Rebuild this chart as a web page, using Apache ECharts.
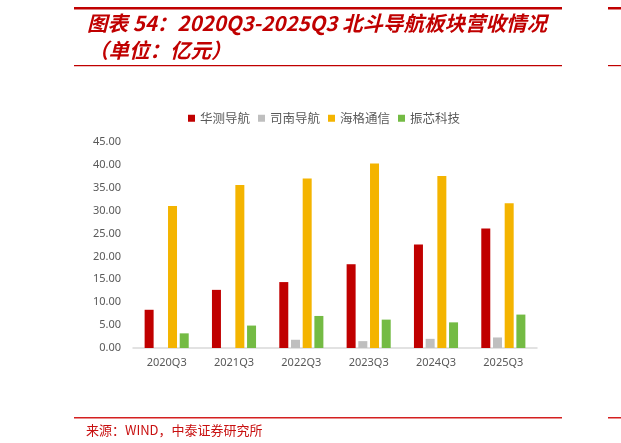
<!DOCTYPE html>
<html>
<head>
<meta charset="utf-8">
<script src="https://cdn.jsdelivr.net/npm/echarts@6/dist/echarts.min.js"></script>
<style>
  html, body { margin: 0; padding: 0; background: #fff; }
  #chart { width: 621px; height: 443px; }
</style>
</head>
<body>
<div id="chart"></div>
<script>
// data (unit: 亿元)
var categories = ['2020Q3', '2021Q3', '2022Q3', '2023Q3', '2024Q3', '2025Q3'];
var seriesNames = ['华测导航', '司南导航', '海格通信', '振芯科技'];
var huace = [8.35, 12.7, 14.4, 18.3, 22.6, 26.1];
var sinan = [null, null, 1.8, 1.5, 2.0, 2.3];
var haige = [31.0, 35.6, 37.0, 40.3, 37.6, 31.6];
var zhenxin = [3.2, 4.9, 7.0, 6.2, 5.6, 7.3];
var colors = ['#C00000', '#BFBFBF', '#F4B400', '#74BB44'];

var red = '#C00000';
var cjk = '"Noto Sans CJK SC", sans-serif';

function barSeries(name, data, color) {
    return {
        name: name,
        type: 'bar',
        data: data,
        barWidth: 9,
        barGap: '30%',
        itemStyle: { color: color },
        emphasis: { disabled: true }
    };
}

var myChart = echarts.init(document.getElementById('chart'));
myChart.setOption({
    animation: false,
    color: colors,
    legend: {
        left: 183,
        top: 107,
        icon: 'rect',
        itemWidth: 7,
        itemHeight: 7,
        itemGap: 8,
        textStyle: { color: '#595959', fontSize: 12.5, fontFamily: cjk },
        data: seriesNames
    },
    grid: { left: 133, right: 84, top: 142, bottom: 95 },
    xAxis: {
        type: 'category',
        data: categories,
        axisLine: { lineStyle: { color: '#D9D9D9', width: 1.5 } },
        axisTick: { show: false },
        axisLabel: { color: '#595959', fontSize: 11, fontFamily: 'Noto Sans', margin: 9 }
    },
    yAxis: {
        type: 'value',
        min: 0,
        max: 45,
        interval: 5,
        splitLine: { show: false },
        axisLine: { show: false },
        axisTick: { show: false },
        axisLabel: {
            color: '#595959',
            fontSize: 11,
            fontFamily: 'Noto Sans',
            margin: 12,
            formatter: function (v) { return v.toFixed(2); }
        }
    },
    series: [
        barSeries(seriesNames[0], huace, colors[0]),
        barSeries(seriesNames[1], sinan, colors[1]),
        barSeries(seriesNames[2], haige, colors[2]),
        barSeries(seriesNames[3], zhenxin, colors[3])
    ],
    graphic: [
        { type: 'rect', shape: { x: 74, y: 7, width: 488, height: 2.5 }, style: { fill: red } },
        { type: 'rect', shape: { x: 608, y: 7, width: 13, height: 2.5 }, style: { fill: red } },
        {
            type: 'text', left: 87, top: 13,
            style: {
                text: '图表 54：2020Q3-2025Q3 北斗导航板块营收情况',
                fill: red, fontSize: 20.5, fontWeight: 'bold', fontStyle: 'italic', fontFamily: cjk
            }
        },
        {
            type: 'text', left: 88, top: 40,
            style: {
                text: '（单位：亿元）',
                fill: red, fontSize: 20.5, fontWeight: 'bold', fontStyle: 'italic', fontFamily: cjk
            }
        },
        { type: 'rect', shape: { x: 74, y: 65, width: 488, height: 1.2 }, style: { fill: red } },
        { type: 'rect', shape: { x: 608, y: 65, width: 13, height: 1.2 }, style: { fill: red } },
        { type: 'rect', shape: { x: 74, y: 417, width: 488, height: 1.5 }, style: { fill: '#D42020' } },
        { type: 'rect', shape: { x: 608, y: 417, width: 13, height: 1.5 }, style: { fill: '#D42020' } },
        {
            type: 'text', left: 86, top: 424,
            style: {
                text: '来源：WIND，中泰证券研究所',
                fill: '#C81010', fontSize: 13, fontFamily: cjk
            }
        }
    ]
});
</script>
</body>
</html>
